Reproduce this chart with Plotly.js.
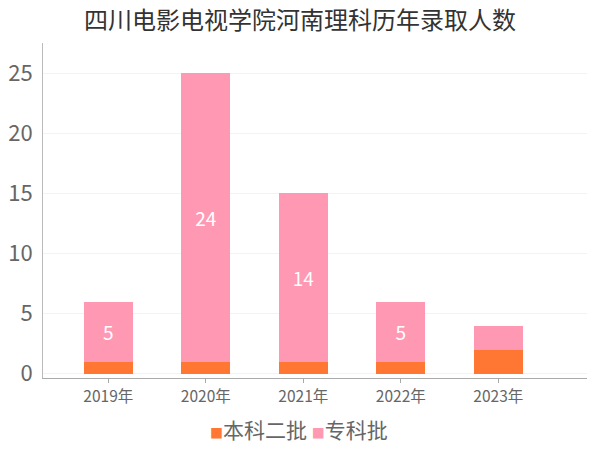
<!DOCTYPE html>
<html><head><meta charset="utf-8">
<script src="https://cdn.plot.ly/plotly-3.0.1.min.js"></script>
<style>body{margin:0}#c{width:600px;height:450px}</style></head>
<body><div id="c"></div>
<script>
const categories = ['2019年','2020年','2021年','2022年','2023年'];
const benke2 = [1,1,1,1,2];
const zhuanke = [5,24,14,5,2];
const zhuankeLabels = ['5','24','14','5',''];
const seriesNames = ['本科二批','专科批'];
const seriesColors = ['#ff7733','#ff99b3'];
const F = '"Noto Sans CJK SC", "Noto Sans", sans-serif';
const data = [
 {type:'bar', name:seriesNames[0], x:categories, y:benke2, marker:{color:seriesColors[0]}, width:0.5, hoverinfo:'none'},
 {type:'bar', name:seriesNames[1], x:categories, y:zhuanke, marker:{color:seriesColors[1]}, width:0.5,
  text:zhuankeLabels, textposition:'inside', insidetextanchor:'middle', textangle:0,
  textfont:{color:'#ffffff', size:19, family:F}, hoverinfo:'none'}
];
const legendText = seriesNames.map((n,i)=>'<span style="color:'+seriesColors[i]+';font-size:13px">■</span>'+n).join(' ');
const layout = {
 width:600, height:450, barmode:'stack', showlegend:false,
 font:{family:F, color:'#666'},
 paper_bgcolor:'#fff', plot_bgcolor:'#fff',
 margin:{l:43, r:13, t:43, b:72},
 title:{text:'四川电影电视学院河南理科历年录取人数', font:{size:24, color:'#333', family:F}, x:0.5, xanchor:'center', yref:'container', y:0.955, yanchor:'middle'},
 xaxis:{range:[-0.67,4.91], showline:true, linecolor:'#aaa', ticks:'outside', ticklen:4, tickcolor:'#aaa',
   tickfont:{size:15.5, color:'#666'}, showgrid:false, zeroline:false, fixedrange:true},
 yaxis:{range:[-0.35,27.5], showline:true, linecolor:'#bbb', tickvals:[0,5,10,15,20,25],
   ticks:'', tickfont:{size:22, color:'#666'}, gridcolor:'#f3f3f3', zeroline:false, ticklabelstandoff:5, automargin:false},
 annotations:[{xref:'paper', yref:'paper', x:0.47, xanchor:'center', y:-0.152, yanchor:'middle',
   text:legendText, showarrow:false, font:{size:21, color:'#666', family:F}}]
};
Plotly.newPlot('c', data, layout, {displayModeBar:false, staticPlot:true});
</script></body></html>
